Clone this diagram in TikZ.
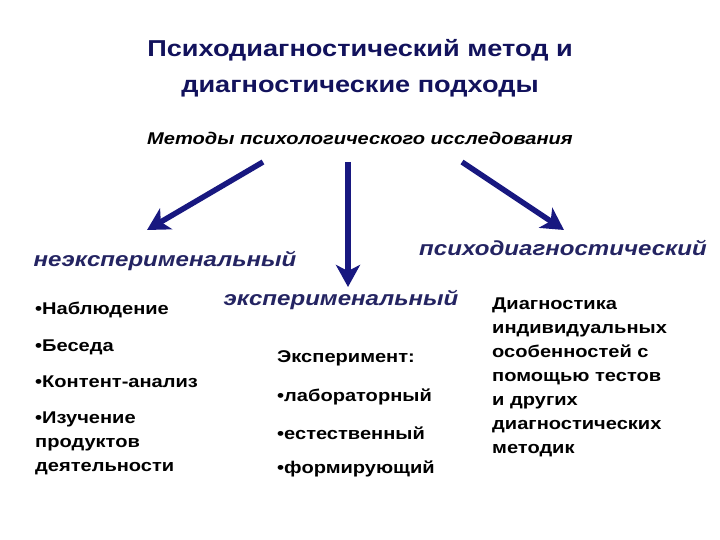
\documentclass[tikz,border=0pt]{standalone}
\usepackage{fontspec}
\setmainfont{Liberation Sans}[FakeStretch=1.18]
\usepackage{xcolor}
\usetikzlibrary{arrows.meta,positioning}
\definecolor{arrowblue}{RGB}{24,24,128}
\definecolor{labelblue}{RGB}{36,36,98}
\definecolor{headblue}{RGB}{18,18,92}
\begin{document}
\begin{tikzpicture}[x=1pt, y=-1pt]
        \tikzset{title/.style={font=\fontsize{23}{36}\selectfont\bfseries, text=headblue, align=center, inner sep=0pt}}
        \tikzset{sub/.style={font=\fontsize{17}{20}\selectfont\bfseries\itshape, inner sep=0pt}}
        \tikzset{kind/.style={font=\fontsize{20.4}{24}\selectfont\bfseries\itshape, text=labelblue, inner sep=0pt}}
        \tikzset{item/.style={font=\fontsize{17}{24}\selectfont\bfseries, anchor=west, inner sep=0pt}}
        \tikzset{block/.style={font=\fontsize{17}{24}\selectfont\bfseries, align=left, anchor=north west, inner sep=0pt}}
        \tikzset{bigarrow/.style={draw=arrowblue, line width=5.5pt, -{Stealth[length=22pt, width=24pt, inset=6pt]}}}

        \useasboundingbox (0,0) rectangle (720,540);

        \node [title] (head) at (360,68) {Психодиагностический метод и\\диагностические подходы};
        \node [sub] (methods) at (360,138) {Методы психологического исследования};

        \node [kind] (nonexp) at (165,261) {неэксперименальный};
        \node [kind] (exp) at (341,300) {эксперименальный};
        \node [kind] (psy) at (563,248) {психодиагностический};

        \coordinate (l0) at (263,162);
        \coordinate (l1) at (147,230);
        \coordinate (m0) at (348,162);
        \coordinate (m1) at (348,287);
        \coordinate (r0) at (462,162);
        \coordinate (r1) at (564,230);
        \draw [bigarrow] (l0) -- (l1);
        \draw [bigarrow] (m0) -- (m1);
        \draw [bigarrow] (r0) -- (r1);

        \node [item] (obs) at (35,310) {•Наблюдение};
        \node [item] (talk) at (35,347) {•Беседа};
        \node [item] (cont) at (35,382) {•Контент-анализ};
        \node [item, align=left, anchor=north west] (prod) at (35,412) {•Изучение\\продуктов\\деятельности};

        \node [item] (expt) at (277,358) {Эксперимент:};
        \node [item] (lab) at (277,397) {•лабораторный};
        \node [item] (nat) at (277,433) {•естественный};
        \node [item] (form) at (277,469) {•формирующий};

        \node [block] (diag) at (492,298) {Диагностика\\индивидуальных\\особенностей с\\помощью тестов\\и других\\диагностических\\методик};
    \end{tikzpicture}
\end{document}
